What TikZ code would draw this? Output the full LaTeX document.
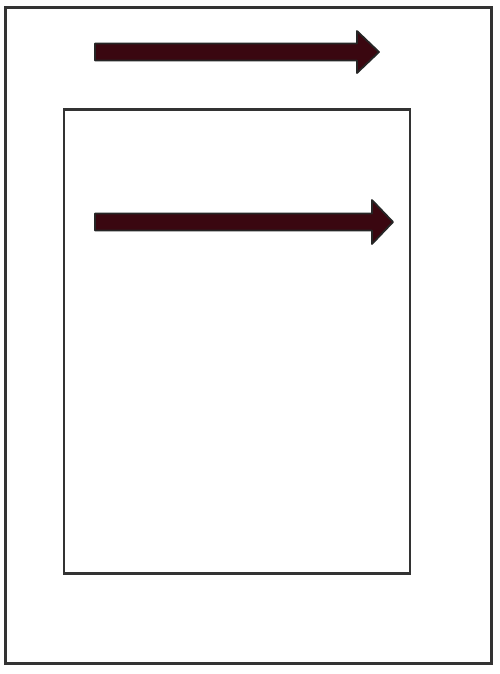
\documentclass[tikz,border=0pt]{standalone}
\usepackage{tikz}
\usetikzlibrary{positioning}

\definecolor{framegray}{HTML}{333333}
\definecolor{arrowred}{HTML}{3A0710}

\begin{document}
\begin{tikzpicture}[
    x=0.02cm, y=-0.02cm,
    % Styles
    frame/.style={
        rectangle,
        draw=framegray,
        line width=1.6pt,
        inner sep=0pt,
        outer sep=0pt
    },
    fatarrow/.style={
        draw=black!85,
        fill=arrowred,
        line width=1pt,
        line join=round
    }
]
\useasboundingbox (0,0) rectangle (500,674);

% Outer page
\node[frame, minimum width=9.72cm, minimum height=13.12cm] (outer) at (248.5,335.5) {};

% Inner page
\node[frame, minimum width=6.92cm, minimum height=9.28cm] (inner) at (237,341.5) {};

% Top arrow (outer page)
\draw[fatarrow] (95,43.5) -- (357,43.5) -- (357,31) -- (379,52)
    -- (357,73) -- (357,60.5) -- (95,60.5) -- cycle;

% Second arrow (inner page)
\draw[fatarrow] (95,213.5) -- (372,213.5) -- (372,200) -- (393,222)
    -- (372,244) -- (372,230.5) -- (95,230.5) -- cycle;

\end{tikzpicture}
\end{document}
